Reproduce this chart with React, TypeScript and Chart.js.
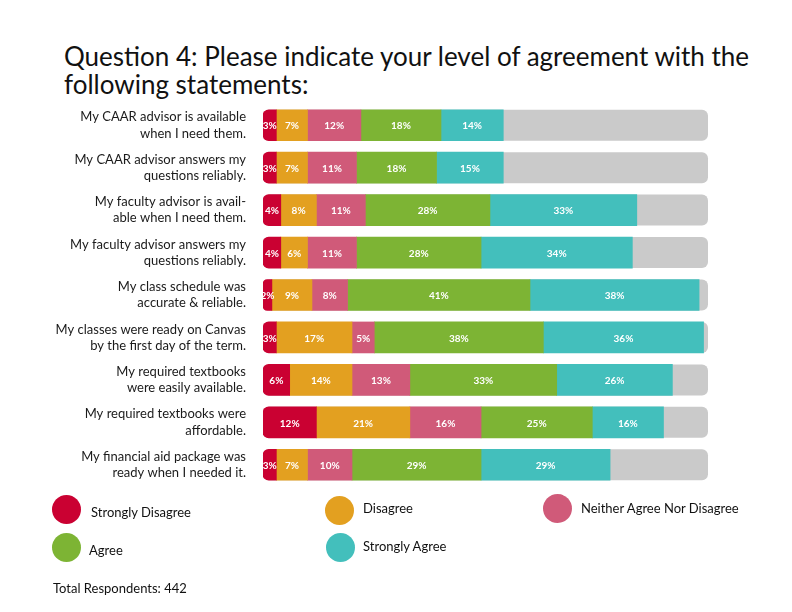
import React, { useEffect, useRef } from "react";
import { Chart, registerables } from "chart.js";

Chart.register(...registerables);

const categories: string[][] = [
  ["My CAAR advisor is available", "when I need them."],
  ["My CAAR advisor answers my", "questions reliably."],
  ["My faculty advisor is avail-", "able when I need them."],
  ["My faculty advisor answers my", "questions reliably."],
  ["My class schedule was", "accurate & reliable."],
  ["My classes were ready on Canvas", "by the first day of the term."],
  ["My required textbooks", "were easily available."],
  ["My required textbooks were", "affordable."],
  ["My financial aid package was", "ready when I needed it."],
];

const seriesNames = ["Strongly Disagree", "Disagree", "Neither Agree Nor Disagree", "Agree", "Strongly Agree"];
const stronglyDisagree = [3, 3, 4, 4, 2, 3, 6, 12, 3];
const disagree = [7, 7, 8, 6, 9, 17, 14, 21, 7];
const neither = [12, 11, 11, 11, 8, 5, 13, 16, 10];
const agree = [18, 18, 28, 28, 41, 38, 33, 25, 29];
const stronglyAgree = [14, 15, 33, 34, 38, 36, 26, 16, 29];
const colors = ["#CA0132", "#E3A020", "#D05A79", "#7DB434", "#43BFBC"];
const trackColor = "#CACACA";
const totalRespondents = 442;

const BAR_H = 31;
const FONT = "Lato, 'Open Sans', sans-serif";

const trackPlugin = {
  id: "track",
  beforeDatasetsDraw(chart: any) {
    const { ctx, scales } = chart;
    const xs = scales.x;
    const ys = scales.y;
    const x0 = xs.getPixelForValue(0);
    const x1 = xs.getPixelForValue(100);
    ctx.save();
    ctx.fillStyle = trackColor;
    categories.forEach((_, i) => {
      const y = ys.getPixelForValue(i);
      ctx.beginPath();
      (ctx as any).roundRect(x0, y - BAR_H / 2, x1 - x0, BAR_H, 6);
      ctx.fill();
    });
    ctx.restore();
  },
};

const labelPlugin = {
  id: "segLabels",
  afterDatasetsDraw(chart: any) {
    const { ctx } = chart;
    ctx.save();
    ctx.fillStyle = "#ffffff";
    ctx.font = `bold 10px ${FONT}`;
    ctx.textAlign = "center";
    ctx.textBaseline = "middle";
    chart.data.datasets.forEach((ds: any, di: number) => {
      const meta = chart.getDatasetMeta(di);
      meta.data.forEach((el: any, i: number) => {
        const v = ds.data[i];
        const cx = (el.x + el.base) / 2;
        ctx.fillText(`${v}%`, cx, el.y + 1);
      });
    });
    ctx.restore();
  },
};

export default function App() {
  const ref = useRef<HTMLCanvasElement>(null);

  useEffect(() => {
    document.body.style.margin = "0";
    const values = [stronglyDisagree, disagree, neither, agree, stronglyAgree];
    const chart = new Chart(ref.current!, {
      type: "bar",
      data: {
        labels: categories,
        datasets: values.map((d, i) => ({
          label: seriesNames[i],
          data: d,
          backgroundColor: colors[i],
          barThickness: BAR_H,
          borderSkipped: false,
          borderRadius:
            i === 0
              ? { topLeft: 6, bottomLeft: 6, topRight: 0, bottomRight: 0 }
              : 0,
        })),
      },
      options: {
        indexAxis: "y",
        animation: false,
        responsive: false,
        maintainAspectRatio: false,
        layout: { padding: { top: 104, bottom: 126, left: 0, right: 84 } },
        plugins: {
          legend: { display: false },
          title: { display: false },
          tooltip: { enabled: false },
        },
        scales: {
          x: {
            stacked: true,
            min: 0,
            max: 100,
            display: false,
          },
          y: {
            stacked: true,
            grid: { display: false, drawTicks: false },
            border: { display: false },
            afterFit: (scale: any) => {
              scale.width = 263;
            },
            ticks: {
              padding: 17,
              color: "#1a1a1a",
              font: { family: FONT, size: 13, lineHeight: 1.25 },
            },
          },
        },
      } as any,
      plugins: [trackPlugin, labelPlugin],
    });
    return () => chart.destroy();
  }, []);

  const legendItems = [
    { cx: 66.5, cy: 509, tx: 91, ty: 512 },
    { cx: 339, cy: 510, tx: 363, ty: 508 },
    { cx: 557, cy: 508, tx: 581, ty: 508 },
    { cx: 66.5, cy: 547, tx: 89, ty: 550 },
    { cx: 340, cy: 547, tx: 363, ty: 546 },
  ];

  return (
    <div style={{ position: "absolute", left: 0, top: 0, width: 792, height: 612, background: "#fff", fontFamily: FONT }}>
      <div
        style={{
          position: "absolute",
          left: 64,
          top: 42,
          fontSize: 26,
          lineHeight: "28px",
          color: "#111",
          whiteSpace: "nowrap",
        }}
      >
        Question 4: Please indicate your level of agreement with the
        <br />
        following statements:
      </div>
      <canvas ref={ref} width={792} height={612} style={{ position: "absolute", left: 0, top: 0 }} />
      {legendItems.map((p, i) => (
        <React.Fragment key={i}>
          <div
            style={{
              position: "absolute",
              left: p.cx - 14.5,
              top: p.cy - 14.5,
              width: 29,
              height: 29,
              borderRadius: "50%",
              background: colors[i],
            }}
          />
          <div
            style={{
              position: "absolute",
              left: p.tx,
              top: p.ty - 8,
              fontSize: 13,
              lineHeight: "16px",
              color: "#111",
              whiteSpace: "nowrap",
            }}
          >
            {seriesNames[i]}
          </div>
        </React.Fragment>
      ))}
      <div
        style={{
          position: "absolute",
          left: 53,
          top: 580,
          fontSize: 13,
          lineHeight: "16px",
          color: "#111",
          whiteSpace: "nowrap",
        }}
      >
        Total Respondents: {totalRespondents}
      </div>
    </div>
  );
}
